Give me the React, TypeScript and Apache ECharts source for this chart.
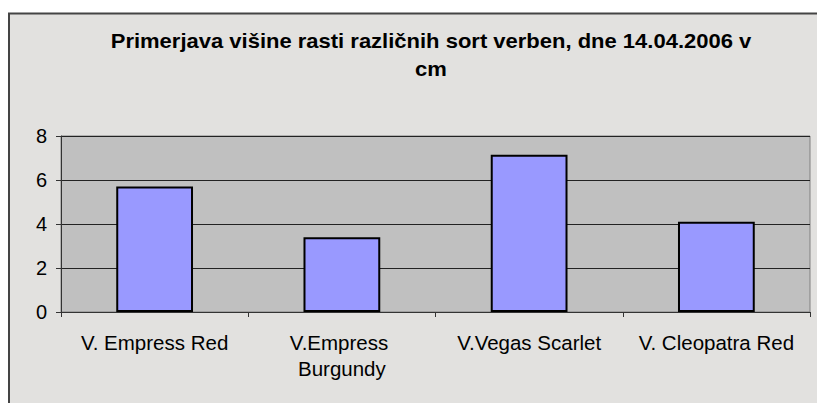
import React, { useEffect, useRef } from "react";
import * as echarts from "echarts";

const TITLE_LINES = ["Primerjava višine rasti različnih sort verben, dne 14.04.2006 v", "cm"];
const CATEGORIES = ["V. Empress Red", "V.Empress Burgundy", "V.Vegas Scarlet", "V. Cleopatra Red"];
const VALUES = [5.7, 3.4, 7.15, 4.1];
const Y_MIN = 0;
const Y_MAX = 8;
const Y_STEP = 2;

export default function App() {
  const ref = useRef<HTMLDivElement>(null);
  useEffect(() => {
    if (!ref.current) return;
    const chart = echarts.init(ref.current, undefined, { renderer: "svg" });
    const font = "Arial, 'Liberation Sans', sans-serif";
    chart.setOption({
      animation: false,
      backgroundColor: "#FFFFFF",
      graphic: [
        {
          type: "rect",
          z: -10,
          silent: true,
          shape: { x: 9, y: 13.5, width: 830, height: 420 },
          style: { fill: "#E2E1DF", stroke: "#444", lineWidth: 2 },
        },
        {
          type: "text",
          x: 431,
          y: 27,
          scaleX: 1.1,
          silent: true,
          style: {
            text: TITLE_LINES.join("\n"),
            font: `bold 20px ${font}`,
            fill: "#000",
            align: "center",
            verticalAlign: "top",
            lineHeight: 28,
          },
        },
      ],
      grid: {
        left: 61,
        right: 7,
        top: 136,
        bottom: 91,
        show: true,
        backgroundColor: "#C0C0C0",
        borderColor: "#808080",
        borderWidth: 1,
      },
      xAxis: {
        type: "category",
        data: CATEGORIES,
        axisLine: { lineStyle: { color: "#333", width: 1 } },
        axisTick: { show: true, alignWithLabel: false, length: 5, lineStyle: { color: "#333" } },
        axisLabel: {
          interval: 0,
          margin: 17,
          color: "#000",
          fontFamily: font,
          fontSize: 20.5,
          lineHeight: 26,
          width: 170,
          overflow: "break",
        },
      },
      yAxis: {
        type: "value",
        min: Y_MIN,
        max: Y_MAX,
        interval: Y_STEP,
        axisLine: { show: true, lineStyle: { color: "#333", width: 1 } },
        axisTick: { show: true, length: 5, lineStyle: { color: "#333" } },
        axisLabel: { margin: 14, color: "#000", fontFamily: font, fontSize: 20 },
        splitLine: { show: true, lineStyle: { color: "#222", width: 1 } },
      },
      series: [
        {
          type: "bar",
          data: VALUES,
          barWidth: "41%",
          itemStyle: { color: "#9999FF", borderColor: "#000", borderWidth: 2 },
        },
      ],
    });
    return () => chart.dispose();
  }, []);
  return (
    <div
      ref={ref}
      style={{ position: "fixed", left: 0, top: 0, width: 817, height: 403 }}
    />
  );
}
